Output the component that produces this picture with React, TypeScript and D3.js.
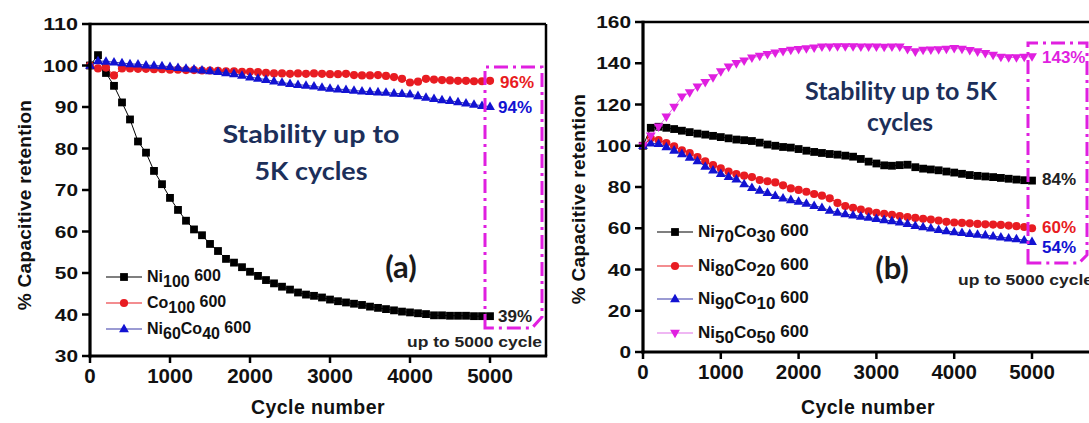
import React from 'react';
import * as d3 from 'd3';

// ---------- data ----------
const CYCLES = d3.range(0, 5001, 100);

// Panel (a)
const NI100_A = [100, 102.5, 98.2, 95.1, 91.1, 87.0, 81.7, 79.0, 74.6, 71.4, 68.1, 65.2, 62.6, 60.5, 59.1, 57.0, 55.3, 53.4, 52.5, 51.4, 50.3, 49.3, 48.3, 47.5, 46.7, 46.0, 45.3, 44.8, 44.5, 44.1, 43.6, 43.2, 42.9, 42.6, 42.3, 41.9, 41.6, 41.3, 41.0, 40.7, 40.5, 40.3, 40.1, 39.8, 39.8, 39.7, 39.7, 39.7, 39.6, 39.6, 39.6];
const CO100_A = [100, 99.3, 99.5, 97.6, 99.3, 99.3, 99.2, 99.2, 99.1, 99.1, 99.0, 99.0, 98.9, 98.9, 98.8, 98.8, 98.7, 98.6, 98.6, 98.5, 98.5, 98.4, 98.2, 98.1, 98.1, 98.0, 98.1, 98.0, 98.1, 98.0, 97.9, 97.9, 98.0, 97.7, 97.6, 97.6, 97.7, 97.5, 97.2, 96.8, 95.9, 96.1, 96.8, 96.6, 96.5, 96.4, 96.3, 96.3, 96.2, 96.2, 96.3];
const NI60CO40_A = [100, 101.1, 101.0, 100.8, 100.6, 100.4, 100.3, 100.1, 100.0, 99.9, 99.7, 99.5, 99.3, 99.1, 98.9, 98.7, 98.5, 98.2, 98.0, 97.6, 97.2, 96.9, 96.6, 96.2, 95.9, 95.6, 95.4, 95.2, 95.0, 94.7, 94.5, 94.3, 94.2, 94.0, 93.8, 93.7, 93.6, 93.5, 93.3, 93.2, 93.1, 92.7, 92.3, 92.0, 91.7, 91.5, 91.2, 90.9, 90.6, 90.3, 90.1];

// Panel (b)
const NI70CO30_B = [100, 108.7, 109.2, 108.7, 108.1, 107.3, 106.6, 105.9, 105.4, 104.8, 104.2, 103.6, 103.0, 102.7, 102.3, 101.5, 100.6, 100.0, 99.4, 99.1, 98.4, 97.6, 97.0, 96.5, 96.0, 95.7, 95.2, 94.7, 93.6, 92.3, 91.4, 90.5, 90.3, 90.6, 90.8, 89.6, 88.9, 88.5, 88.1, 87.5, 87.0, 86.4, 85.8, 85.4, 85.1, 84.8, 84.4, 84.0, 83.6, 83.3, 83.1];
const NI80CO20_B = [100, 103.6, 102.8, 101.3, 99.7, 97.8, 96.4, 94.5, 92.4, 90.6, 89.0, 87.5, 86.3, 85.5, 84.8, 83.4, 82.8, 82.2, 80.8, 79.3, 78.6, 77.7, 76.6, 75.8, 74.5, 72.3, 70.8, 69.9, 69.1, 68.2, 67.5, 67.0, 66.5, 65.9, 65.4, 65.0, 64.6, 64.2, 63.7, 63.1, 62.8, 62.6, 62.4, 62.1, 61.9, 61.8, 61.6, 61.3, 61.0, 60.6, 60.0];
const NI90CO10_B = [100, 101.2, 101.0, 99.4, 97.8, 96.1, 94.4, 92.6, 90.0, 88.2, 86.5, 85.0, 83.8, 81.5, 79.7, 78.4, 77.2, 75.8, 74.6, 73.8, 73.0, 72.0, 71.0, 70.0, 68.6, 67.7, 66.9, 66.3, 65.8, 65.2, 64.6, 64.1, 63.5, 62.9, 62.2, 61.3, 60.6, 60.0, 59.3, 58.7, 58.2, 57.9, 57.4, 57.0, 56.7, 56.2, 55.7, 55.2, 54.8, 54.2, 53.5];
const NI50CO50_B = [100, 104.8, 109.2, 114.0, 118.8, 123.7, 125.8, 128.6, 130.8, 133.0, 136.0, 138.2, 139.9, 141.2, 142.6, 143.5, 144.3, 145.1, 145.8, 146.4, 146.8, 147.1, 147.5, 148.0, 148.0, 148.1, 148.1, 148.1, 148.0, 148.0, 148.0, 147.8, 148.0, 148.0, 146.8, 145.6, 146.4, 146.5, 146.6, 146.9, 147.2, 146.9, 146.3, 145.6, 144.8, 144.0, 143.0, 142.8, 142.8, 143.0, 143.2];

// tick values
const X_TICKS = [0, 1000, 2000, 3000, 4000, 5000];
const Y_TICKS_A = [30, 40, 50, 60, 70, 80, 90, 100, 110];
const Y_TICKS_B = [0, 20, 40, 60, 80, 100, 120, 140, 160];

// legend labels: [base, sub, base, sub, suffix]
const LABELS_A = [
  ['Ni', '100', '', '', ' 600'],
  ['Co', '100', '', '', ' 600'],
  ['Ni', '60', 'Co', '40', ' 600'],
];
const LABELS_B = [
  ['Ni', '70', 'Co', '30', ' 600'],
  ['Ni', '80', 'Co', '20', ' 600'],
  ['Ni', '90', 'Co', '10', ' 600'],
  ['Ni', '50', 'Co', '50', ' 600'],
];

const RED = '#e81c22';
const BLUE = '#1212d2';
const MAGENTA = '#e01fe0';
const NAVY = '#1c2f5a';
const ARIAL = '"Liberation Sans", Arial, sans-serif';
const LATO = 'Lato, "Open Sans", sans-serif';

type Shape = 'square' | 'circle' | 'up' | 'down';

function Marker({ shape, x, y, color }: { shape: Shape; x: number; y: number; color: string }) {
  if (shape === 'square') return <rect x={x - 3.9} y={y - 3.9} width={7.8} height={7.8} fill={color} />;
  if (shape === 'circle') return <circle cx={x} cy={y} r={4.1} fill={color} />;
  const p = d3.symbol(d3.symbolTriangle, 42)() as string;
  return <path d={p} transform={`translate(${x},${y + (shape === 'up' ? 0.5 : -0.5)}) rotate(${shape === 'down' ? 180 : 0})`} fill={color} />;
}

type SeriesDef = { values: number[]; color: string; line: string; shape: Shape };

function LegendLabel({ parts, x, y, size }: { parts: string[]; x: number; y: number; size: number }) {
  const [a, as, b, bs, suf] = parts;
  return (
    <text x={x} y={y} fontFamily={ARIAL} fontWeight="bold" fontSize={size} fill="#111">
      <tspan>{a}</tspan>
      <tspan dy={5}>{as}</tspan>
      {b ? <tspan dy={-5}>{b}</tspan> : null}
      {b ? <tspan dy={5}>{bs}</tspan> : null}
      <tspan dy={-6}>{suf}</tspan>
    </text>
  );
}

function Panel(props: {
  x0: number; x1: number; y0: number; y1: number; xMax: number; yDomain: [number, number]; yTicks: number[];
  series: SeriesDef[]; labels: string[][]; legendX: number; legendY: number[]; legendSize: number;
  titleYX: number; titleYY: number; titleXX: number;
}) {
  const { x0, x1, y0, y1, xMax, yDomain, yTicks, series, labels, legendX, legendY, legendSize } = props;
  const xs = d3.scaleLinear().domain([0, xMax]).range([x0, x1]);
  const ys = d3.scaleLinear().domain(yDomain).range([y0, y1]);
  const line = d3.line<number>().x((_, i) => xs(CYCLES[i])).y((d) => ys(d));
  return (
    <g>
      {/* frame */}
      <line x1={x0} x2={x1} y1={y1} y2={y1} stroke="#000" strokeWidth={2.5} />
      <line x1={x1} x2={x1} y1={y1} y2={y0} stroke="#000" strokeWidth={2.5} />
      {/* series */}
      {series.map((s, k) => (
        <g key={k}>
          <path d={line(s.values) as string} fill="none" stroke={s.line} strokeWidth={1} />
          {s.values.map((v, i) => (
            <Marker key={i} shape={s.shape} x={xs(CYCLES[i])} y={ys(v)} color={s.color} />
          ))}
        </g>
      ))}
      {/* axes */}
      <line x1={x0} x2={x0} y1={y0 + 1.5} y2={y1 - 1.2} stroke="#000" strokeWidth={3.2} />
      <line x1={x0 - 1.5} x2={x1 + 1.2} y1={y0} y2={y0} stroke="#000" strokeWidth={3.2} />
      {yTicks.map((t) => (
        <g key={t}>
          <line x1={x0 - 8} x2={x0} y1={ys(t)} y2={ys(t)} stroke="#000" strokeWidth={2.5} />
          <text x={x0 - 12} y={ys(t) + 6} textAnchor="end" fontFamily={ARIAL} fontWeight="bold" fontSize={17}
            textLength={String(t).length * 11.6} lengthAdjust="spacingAndGlyphs" fill="#111">{t}</text>
        </g>
      ))}
      {X_TICKS.map((t) => (
        <g key={t}>
          <line x1={xs(t)} x2={xs(t)} y1={y0} y2={y0 + 7} stroke="#000" strokeWidth={2.5} />
          <text x={xs(t)} y={y0 + 27} textAnchor="middle" fontFamily={ARIAL} fontWeight="bold" fontSize={20.5} fill="#111">{t}</text>
        </g>
      ))}
      <text transform={`translate(${props.titleYX},${props.titleYY}) rotate(-90)`} textAnchor="middle" fontFamily={ARIAL}
        fontWeight="bold" fontSize={19} fill="#111" letterSpacing={0.3}>% Capacitive retention</text>
      <text x={props.titleXX} y={414} textAnchor="middle" fontFamily={ARIAL} fontWeight="bold" fontSize={19.5} fill="#111" letterSpacing={0.4}>Cycle number</text>
      {/* legend */}
      {series.map((s, k) => (
        <g key={k}>
          <line x1={legendX} x2={legendX + 36} y1={legendY[k]} y2={legendY[k]} stroke={s.line} strokeWidth={1.2} />
          <Marker shape={s.shape} x={legendX + 18} y={legendY[k]} color={s.color} />
          <LegendLabel parts={labels[k]} x={legendX + 41} y={legendY[k] + 5} size={legendSize} />
        </g>
      ))}
    </g>
  );
}

export default function App() {
  const seriesA: SeriesDef[] = [
    { values: NI100_A, color: '#000', line: '#000', shape: 'square' },
    { values: CO100_A, color: RED, line: RED, shape: 'circle' },
    { values: NI60CO40_A, color: BLUE, line: '#3838a8', shape: 'up' },
  ];
  const seriesB: SeriesDef[] = [
    { values: NI70CO30_B, color: '#000', line: '#000', shape: 'square' },
    { values: NI80CO20_B, color: RED, line: RED, shape: 'circle' },
    { values: NI90CO10_B, color: BLUE, line: '#3838a8', shape: 'up' },
    { values: NI50CO50_B, color: MAGENTA, line: '#e070e8', shape: 'down' },
  ];
  const pct = (x: number, y: number, s: string, c: string) => (
    <text x={x} y={y} fontFamily={ARIAL} fontWeight="bold" fontSize={17} fill={c}>{s}</text>
  );
  return (
    <svg width={1089} height={423} style={{ position: 'absolute', left: 0, top: 0, background: '#fff' }}>
      <rect width={1089} height={423} fill="#fff" />
      <Panel x0={90} x1={546} y0={356} y1={24} xMax={5700} yDomain={[30, 110]} yTicks={Y_TICKS_A}
        series={seriesA} labels={LABELS_A} legendX={106} legendY={[277, 303, 329]} legendSize={16}
        titleYX={31} titleYY={205} titleXX={318} />
      <Panel x0={643} x1={643 + 5.75 * 77.8} y0={352} y1={22} xMax={5750} yDomain={[0, 160]} yTicks={Y_TICKS_B}
        series={seriesB} labels={LABELS_B} legendX={657} legendY={[232, 266, 299, 333]} legendSize={17}
        titleYX={585} titleYY={199} titleXX={868} />

      {/* panel (a) annotations */}
      <path d="M485,328 V67 H542 V317 L532,328 Z" fill="none" stroke={MAGENTA} strokeWidth={3} strokeDasharray="14,5,3,5" />
      <text x={311} y={143} textAnchor="middle" fontFamily={LATO} fontWeight="bold" fontSize={25} fill={NAVY}
        textLength={177} lengthAdjust="spacingAndGlyphs">Stability up to</text>
      <text x={311} y={180} textAnchor="middle" fontFamily={LATO} fontWeight="bold" fontSize={25} fill={NAVY}
        textLength={113} lengthAdjust="spacingAndGlyphs">5K cycles</text>
      <text x={401} y={278} textAnchor="middle" fontFamily={LATO} fontWeight="bold" fontSize={31} fill="#1a1a1a">(a)</text>
      {pct(500, 88, '96%', RED)}
      {pct(498, 113, '94%', BLUE)}
      {pct(498, 322, '39%', '#222')}
      <text x={407} y={347} fontFamily={ARIAL} fontWeight="bold" fontSize={15.5} fill="#222"
        textLength={135} lengthAdjust="spacingAndGlyphs">up to 5000 cycle</text>

      {/* panel (b) annotations */}
      <path d="M1028,263 V43 H1087 V255 L1079,263 Z" fill="none" stroke={MAGENTA} strokeWidth={3} strokeDasharray="14,5,3,5" />
      <text x={901} y={100} textAnchor="middle" fontFamily={LATO} fontWeight="bold" fontSize={24} fill={NAVY}
        textLength={192} lengthAdjust="spacingAndGlyphs">Stability up to 5K</text>
      <text x={900} y={131} textAnchor="middle" fontFamily={LATO} fontWeight="bold" fontSize={24} fill={NAVY}
        textLength={66} lengthAdjust="spacingAndGlyphs">cycles</text>
      <text x={892} y={279} textAnchor="middle" fontFamily={LATO} fontWeight="bold" fontSize={31} fill="#1a1a1a">(b)</text>
      {pct(1042, 63, '143%', MAGENTA)}
      {pct(1042, 185, '84%', '#222')}
      {pct(1042, 233, '60%', RED)}
      {pct(1042, 253, '54%', BLUE)}
      <text x={958} y={285} fontFamily={ARIAL} fontWeight="bold" fontSize={15.5} fill="#222"
        textLength={135} lengthAdjust="spacingAndGlyphs">up to 5000 cycle</text>
    </svg>
  );
}
